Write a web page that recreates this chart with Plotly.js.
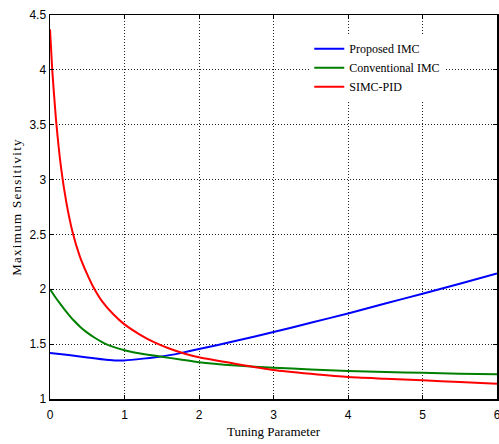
<!DOCTYPE html>
<html>
<head>
<meta charset="utf-8">
<script src="https://cdn.plot.ly/plotly-3.0.1.min.js"></script>
<style>
html,body{margin:0;padding:0;background:#fff;}
#chart{width:499px;height:444px;}
.g-ytitle text{letter-spacing:1.3px;}
</style>
</head>
<body>
<div id="chart"></div>
<script>
// Data
const seriesNames = ["Proposed IMC", "Conventional IMC", "SIMC-PID"];

const xProposed = [0, 0.25, 0.5, 0.75, 0.9, 1.0, 1.25, 1.5, 1.75, 2.0, 2.5, 3.0, 3.5, 4.0, 4.5, 5.0, 5.5, 6.0];
const yProposed = [1.42, 1.40, 1.378, 1.357, 1.35, 1.352, 1.368, 1.387, 1.418, 1.455, 1.53, 1.61, 1.695, 1.78, 1.87, 1.96, 2.05, 2.145];

const xConventional = [0, 0.07, 0.14, 0.22, 0.32, 0.41, 0.5, 0.6, 0.73, 0.85, 1.0, 1.25, 1.5, 1.75, 2.0, 2.5, 3.0, 3.5, 4.0, 4.5, 5.0, 5.5, 6.0];
const yConventional = [2.0, 1.93, 1.865, 1.795, 1.715, 1.655, 1.605, 1.558, 1.507, 1.475, 1.445, 1.41, 1.385, 1.36, 1.335, 1.305, 1.285, 1.27, 1.255, 1.245, 1.24, 1.23, 1.225];

const xSimc = [0, 0.03, 0.08, 0.15, 0.22, 0.30, 0.40, 0.50, 0.57, 0.70, 0.85, 1.0, 1.2, 1.41, 1.6, 1.8, 2.0, 2.5, 3.0, 3.5, 4.0, 4.5, 5.0, 5.5, 6.0];
const ySimc = [4.37, 4.0, 3.55, 3.1, 2.79, 2.53, 2.30, 2.135, 2.035, 1.89, 1.772, 1.68, 1.59, 1.513, 1.46, 1.415, 1.38, 1.32, 1.265, 1.23, 1.20, 1.185, 1.17, 1.155, 1.14];

const xTicks = [0, 1, 2, 3, 4, 5, 6];
const yTicks = [1, 1.5, 2, 2.5, 3, 3.5, 4, 4.5];

const colors = ["#0000ff", "#008000", "#ff0000"];
const xs = [xProposed, xConventional, xSimc];
const ys = [yProposed, yConventional, ySimc];

const traces = seriesNames.map((n, i) => ({
  x: xs[i], y: ys[i], name: n, type: "scatter", mode: "lines",
  line: {color: colors[i], width: 2, shape: "spline", smoothing: 0.5}
}));

const axisCommon = {
  showline: true, mirror: "ticks", linecolor: "#000", linewidth: 1.5,
  ticks: "inside", ticklen: 4, tickcolor: "#000", tickwidth: 1,
  showgrid: true, gridcolor: "#222", griddash: "1px,2px", gridwidth: 1,
  zeroline: false, ticklabeloverflow: "allow",
  tickfont: {family: "Liberation Sans, Arial, sans-serif", size: 12, color: "#000"}
};

const layout = {
  width: 499, height: 444,
  margin: {l: 50, r: 2, t: 15, b: 45},
  paper_bgcolor: "#fff", plot_bgcolor: "#fff",
  showlegend: true,
  legend: {
    x: 0.58, y: 0.95, xanchor: "left", yanchor: "top",
    bgcolor: "#fff", borderwidth: 0, tracegroupgap: 0,
    font: {family: "Liberation Serif, Times New Roman, serif", size: 12, color: "#000"}
  },
  xaxis: Object.assign({}, axisCommon, {
    range: [0, 6], tickvals: xTicks, ticktext: xTicks.map(String),
    ticklabelstandoff: 4,
    title: {text: "Tuning Parameter", standoff: 6,
      font: {family: "Liberation Serif, Times New Roman, serif", size: 13, color: "#000"}}
  }),
  yaxis: Object.assign({}, axisCommon, {
    range: [1, 4.5], tickvals: yTicks, ticktext: yTicks.map(String),
    title: {text: "Maximum Sensitivity", standoff: 5,
      font: {family: "Liberation Serif, Times New Roman, serif", size: 13, color: "#000"}}
  })
};

Plotly.newPlot("chart", traces, layout, {displayModeBar: false, staticPlot: true});
</script>
</body>
</html>
